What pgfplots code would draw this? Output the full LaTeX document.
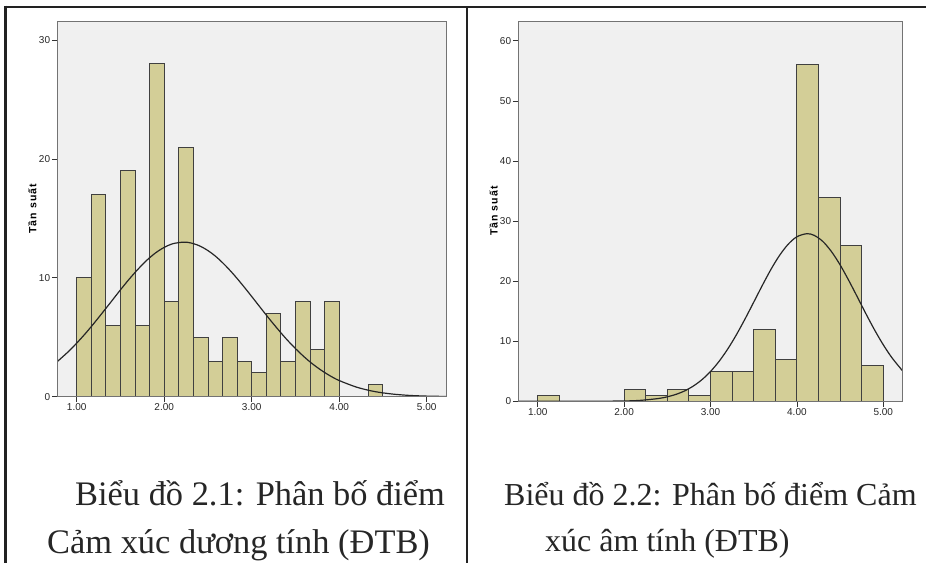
\documentclass[border=0pt]{standalone}
\usepackage{fontspec}
\setmainfont{Liberation Serif}
\newfontfamily\spss{Liberation Sans}
\newfontfamily\spsslab[LetterSpace=10]{Liberation Sans}
\usepackage{pgfplots}
\pgfplotsset{compat=1.18}

\definecolor{barfill}{HTML}{D3CE97}
\definecolor{plotbg}{HTML}{F0F0F0}
\definecolor{framecol}{HTML}{222222}

\pgfplotsset{
  spss/.style={
    scale only axis,
    axis on top,
    axis background/.style={fill=plotbg},
    axis line style={black!55, line width=0.9pt},
    tick pos=left,
    tick align=outside,
    major tick length=5.5pt,
    every tick/.append style={black!80, line width=0.8pt},
    ticklabel style={font=\spss\fontsize{10}{11}\selectfont, text=black!85, inner sep=1.5pt},
    /pgf/number format/assume math mode=true,
    xtick={1,2,3,4,5},
    xticklabels={1.00,2.00,3.00,4.00,5.00},
    ymin=0,
    ylabel={Tần suất},
    every axis y label/.style={at={(axis description cs:-0.064,0.5)}, rotate=90, anchor=center,
      font=\spsslab\bfseries\fontsize{10.5}{12}\selectfont},
  },
  bars/.style={ybar interval, fill=barfill, draw=black!75, line width=0.9pt},
  curve/.style={smooth, black!85, line width=1.2pt, mark=none},
}

\begin{document}
\begin{tikzpicture}
\path[use as bounding box] (0pt,0pt) rectangle (926pt,-563pt);

% Biểu đồ 2.1
\begin{axis}[spss,
  at={(57.3pt,-21pt)}, anchor=north west,
  width=389.4pt, height=375.7pt,
  xmin=0.778, xmax=5.229, ymax=31.6,
  ytick={0,10,20,30},
]
\addplot[bars] coordinates {
  (1.000,10) (1.167,17) (1.333,6) (1.500,19) (1.667,6) (1.833,28)
  (2.000,8) (2.167,21) (2.333,5) (2.500,3) (2.667,5) (2.833,3)
  (3.000,2) (3.167,7) (3.333,3) (3.500,8) (3.667,4) (3.833,8)
  (4.000,0) (4.167,0) (4.333,1) (4.500,1)
};
\addplot[curve] coordinates {
  (0.78,2.97) (0.9,3.76) (1.0,4.51) (1.1,5.32) (1.2,6.20) (1.3,7.12)
  (1.4,8.05) (1.5,8.99) (1.6,9.89) (1.7,10.72) (1.8,11.47) (1.9,12.09)
  (2.0,12.56) (2.1,12.87) (2.22,13.0) (2.3,12.94) (2.4,12.70) (2.5,12.29)
  (2.6,11.73) (2.7,11.03) (2.8,10.23) (2.9,9.35) (3.0,8.43) (3.1,7.49)
  (3.2,6.56) (3.3,5.67) (3.4,4.82) (3.5,4.05) (3.6,3.35) (3.7,2.73)
  (3.8,2.20) (3.9,1.74) (4.0,1.36) (4.2,0.80) (4.4,0.44) (4.6,0.23)
  (4.8,0.11) (5.0,0.05) (5.23,0.02)
};
\end{axis}

% Biểu đồ 2.2
\begin{axis}[spss,
  at={(518.3pt,-21pt)}, anchor=north west,
  width=384pt, height=380.3pt,
  xmin=0.775, xmax=5.22, ymax=63.3,
  ytick={0,10,20,30,40,50,60},
]
\addplot[bars] coordinates {
  (1.00,1) (1.25,0) (1.50,0) (1.75,0) (2.00,2) (2.25,1) (2.50,2)
  (2.75,1) (3.00,5) (3.25,5) (3.50,12) (3.75,7) (4.00,56) (4.25,34)
  (4.50,26) (4.75,6) (5.00,6)
};
\addplot[curve] coordinates {
  (0.78,0) (1.5,0.002) (2.0,0.056) (2.2,0.17) (2.4,0.47) (2.5,0.75)
  (2.6,1.15) (2.7,1.73) (2.8,2.53) (2.9,3.59) (3.0,4.96) (3.1,6.67)
  (3.2,8.72) (3.3,11.09) (3.4,13.72) (3.5,16.50) (3.6,19.30) (3.7,21.97)
  (3.8,24.31) (3.9,26.16) (4.0,27.39) (4.115,27.9) (4.2,27.62) (4.3,26.61)
  (4.4,24.92) (4.5,22.71) (4.6,20.12) (4.7,17.35) (4.8,14.54) (4.9,11.85)
  (5.0,9.40) (5.1,7.25) (5.22,5.12)
};
\end{axis}

% khung
\draw[framecol, line width=2.6pt] (5.3pt,-7pt) -- (926pt,-7pt);
\draw[framecol, line width=2.6pt] (5.3pt,-5.7pt) -- (5.3pt,-563pt);
\draw[framecol, line width=2.2pt] (467pt,-7pt) -- (467pt,-563pt);

% chú thích
\node[anchor=base west, inner sep=0pt, font=\fontsize{34.4}{40}\selectfont, text=black!85]
  at (75pt,-505pt) {Biểu đồ 2.1: Phân bố điểm};
\node[anchor=base west, inner sep=0pt, font=\fontsize{34.4}{40}\selectfont, text=black!85]
  at (47pt,-553pt) {Cảm xúc dương tính (ĐTB)};
\node[anchor=base west, inner sep=0pt, font=\fontsize{32}{38}\selectfont, text=black!85]
  at (504pt,-505pt) {Biểu đồ 2.2: Phân bố điểm Cảm};
\node[anchor=base west, inner sep=0pt, font=\fontsize{32}{38}\selectfont, text=black!85]
  at (545pt,-551pt) {xúc âm tính (ĐTB)};
\end{tikzpicture}
\end{document}
